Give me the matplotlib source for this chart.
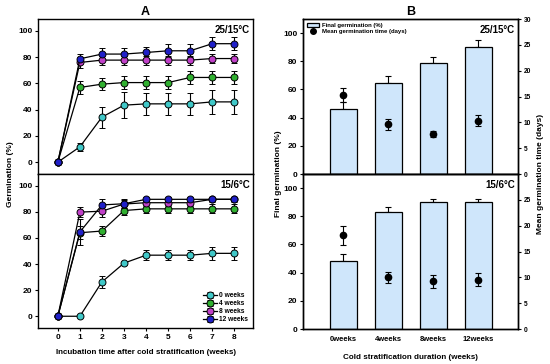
import matplotlib
matplotlib.use("Agg")
import matplotlib.pyplot as plt
import numpy as np
from matplotlib.patches import Patch
from matplotlib.lines import Line2D

plt.rcParams['font.family'] = ['Liberation Sans', 'DejaVu Sans']
plt.rcParams['font.weight'] = 'bold'

weeks = [0, 1, 2, 3, 4, 5, 6, 7, 8]
series_names = ["0 weeks", "4 weeks", "8 weeks", "12 weeks"]
series_colors = ["#40C8C8", "#30B030", "#C040C8", "#2020C8"]

# Panel A, 25/15 C
a_top_vals = [
    [0, 11.7, 34.3, 43.4, 44.4, 44.4, 44.4, 45.9, 45.9],
    [0, 56.9, 59.4, 60.6, 60.6, 60.6, 64.5, 64.5, 64.5],
    [0, 75.9, 77.7, 77.7, 77.7, 77.7, 77.7, 78.9, 78.9],
    [0, 78.7, 82.3, 82.3, 83.5, 84.8, 84.8, 90.2, 90.2],
]
a_top_err = [
    [0, 3, 8, 10, 8.6, 8.6, 8.6, 9.3, 9.3],
    [0, 5, 4.5, 5, 5, 5, 5, 5, 5],
    [0, 4, 3.5, 3.5, 3.5, 3.5, 3.5, 3.5, 3.5],
    [0, 4, 4.5, 4.5, 4.5, 5, 5, 5, 5],
]
# Panel A, 15/6 C
a_bot_vals = [
    [0, 0, 26.3, 40.7, 46.8, 46.8, 46.8, 48.2, 48.2],
    [0, 64.0, 65.3, 81.0, 82.3, 82.3, 82.3, 82.3, 82.3],
    [0, 79.8, 80.5, 86.0, 87.0, 87.0, 87.0, 89.6, 89.6],
    [0, 64.6, 85.3, 86.2, 89.6, 89.6, 89.6, 89.6, 89.6],
]
a_bot_err = [
    [0, 0, 4.5, 1.5, 4, 4, 4, 5, 5],
    [0, 5, 4, 3.5, 3.5, 3.5, 3.5, 3.5, 3.5],
    [0, 4, 4.5, 3, 2.5, 2.5, 2.5, 1.5, 1.5],
    [0, 10, 4.5, 3.5, 2, 2, 2, 2, 2],
]

# Panel B
b_cats = ["0weeks", "4weeks", "8weeks", "12weeks"]
b_top_final = [46, 64.5, 79, 90]
b_top_final_err = [5.2, 4.7, 4, 4.8]
b_top_mgt = [15.2, 9.6, 7.75, 10.3]
b_top_mgt_err = [1.35, 1.1, 0.5, 1.1]
b_bot_final = [48.5, 82.9, 89.8, 89.8]
b_bot_final_err = [4.8, 4, 2.4, 2.4]
b_bot_mgt = [18.1, 10.0, 9.2, 9.55]
b_bot_mgt_err = [1.9, 1.0, 1.3, 1.2]

fig = plt.figure(figsize=(5.5, 3.64), dpi=100)
W, H = 550.0, 364.0

def ax_at(x0, x1, y0, y1):
    return fig.add_axes([x0 / W, 1 - y1 / H, (x1 - x0) / W, (y1 - y0) / H])

axA1 = ax_at(38, 253, 19, 174)
axA2 = ax_at(38, 253, 174, 328)
axB1 = ax_at(303, 518, 19, 174)
axB2 = ax_at(303, 518, 174, 329)

tick_fs = 6.0

def style(ax):
    for s in ax.spines.values():
        s.set_linewidth(1.0)
    ax.tick_params(direction='out', length=2.5, width=0.8, labelsize=tick_fs, pad=1.5)

for ax, vals, errs, lbl in [(axA1, a_top_vals, a_top_err, "25/15°C"),
                            (axA2, a_bot_vals, a_bot_err, "15/6°C")]:
    for v, e, c, n in zip(vals, errs, series_colors, series_names):
        ax.errorbar(weeks, v, yerr=e, color='black', lw=0.9, ecolor='black',
                    elinewidth=0.8, capsize=2, capthick=0.8, marker='o',
                    markersize=5, markerfacecolor=c, markeredgecolor='black',
                    markeredgewidth=0.7, label=n, zorder=3)
    ax.set_xlim(-0.9, 8.85)
    ax.set_ylim(-9, 109)
    ax.set_yticks([0, 20, 40, 60, 80, 100])
    ax.text(0.985, 0.96, lbl, transform=ax.transAxes, ha='right', va='top',
            fontsize=7, fontweight='bold')
    style(ax)

axA1.set_xticks([])
axA2.set_xticks(weeks)
axA2.set_xlabel("Incubation time after cold stratification (weeks)", fontsize=5.8,
                fontweight='bold', labelpad=6)
axA1.set_title("A", fontsize=9, fontweight='bold', pad=3)
fig.text(11 / W, 1 - 174 / H, "Germination (%)", rotation=90, ha='center',
         va='center', fontsize=6, fontweight='bold')

leg = axA2.legend(loc='lower right', fontsize=4.8, frameon=False, handlelength=2.2,
                  handletextpad=0.3, labelspacing=0.15, borderaxespad=0.3)

xb = np.arange(len(b_cats))
for ax, fv, fe, mv, me, lbl in [
        (axB1, b_top_final, b_top_final_err, b_top_mgt, b_top_mgt_err, "25/15°C"),
        (axB2, b_bot_final, b_bot_final_err, b_bot_mgt, b_bot_mgt_err, "15/6°C")]:
    ax.bar(xb, fv, width=0.6, color='#CFE6FB', edgecolor='black', linewidth=0.9,
           zorder=2)
    ax.errorbar(xb, fv, yerr=[np.zeros(len(fe)), fe], fmt='none', ecolor='black',
                elinewidth=0.8, capsize=2.5, capthick=0.8, zorder=1)
    ax.set_xlim(-0.9, 3.88)
    ax.set_ylim(0, 110)
    ax.set_yticks([0, 20, 40, 60, 80, 100])
    ax2 = ax.twinx()
    ax2.errorbar(xb, mv, yerr=me, fmt='o', color='black', markersize=4.5,
                 ecolor='black', elinewidth=0.8, capsize=2, capthick=0.8)
    ax2.set_ylim(0, 30)
    ax2.set_yticks([0, 5, 10, 15, 20, 25, 30] if ax is axB1 else [0, 5, 10, 15, 20, 25])
    style(ax)
    style(ax2)
    ax2.tick_params(labelsize=4.8)
    ax.text(0.985, 0.96, lbl, transform=ax.transAxes, ha='right', va='top',
            fontsize=7, fontweight='bold')

axB1.set_xticks([])
axB2.set_xticks(xb)
axB2.set_xticklabels(b_cats, fontsize=5.5, fontweight='bold')
axB2.tick_params(axis='x', length=0, pad=5)
axB2.set_xlabel("Cold stratification duration (weeks)", fontsize=5.8,
                fontweight='bold', labelpad=8)
axB1.set_title("B", fontsize=9, fontweight='bold', pad=3)
fig.text(279 / W, 1 - 174 / H, "Final germination (%)", rotation=90, ha='center',
         va='center', fontsize=6, fontweight='bold')
fig.text(541 / W, 1 - 174 / H, "Mean germination time (days)", rotation=90,
         ha='center', va='center', fontsize=6, fontweight='bold')

handles = [Patch(facecolor='#CFE6FB', edgecolor='black', linewidth=0.9),
           Line2D([], [], marker='o', ls='none', color='black', markersize=4)]
axB1.legend(handles, ["Final germination (%)", "Mean germination time (days)"],
            loc='upper left', fontsize=4.3, frameon=False, handlelength=2.0,
            handleheight=0.8, handletextpad=0.6, labelspacing=0.2,
            borderaxespad=0.2)

fig.savefig("out.png", dpi=100)
